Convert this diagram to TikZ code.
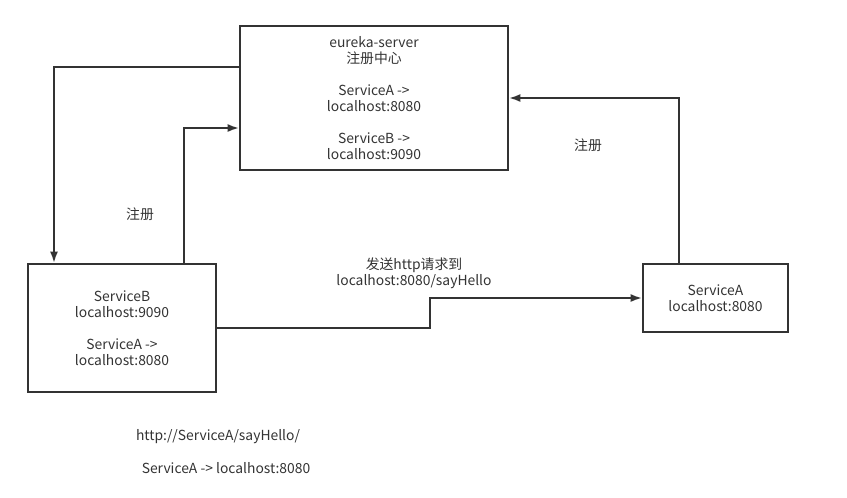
\documentclass[tikz,border=0pt]{standalone}
\usepackage{fontspec}
\setmainfont{Noto Sans CJK SC}
\usetikzlibrary{positioning, arrows.meta}
\usepackage{xcolor}
\definecolor{ink}{HTML}{333333}

\begin{document}
\begin{tikzpicture}[x=0.75pt, y=-0.75pt, font=\fontsize{10.4}{12}\selectfont, text=ink,
        box/.style={rectangle, draw=ink, line width=1.5pt, align=center, inner sep=0pt},
        arr/.style={draw=ink, line width=1.5pt, -{Latex[length=8.5pt, width=6pt]}}]
        \useasboundingbox (0,0) rectangle (847,497);
        % Nodes
        \node[box, minimum width=201pt, minimum height=108pt] (server) at (374,98)
            {eureka-server\\注册中心\\[12pt]ServiceA ->\\localhost:8080\\[12pt]ServiceB ->\\localhost:9090};
        \node[box, minimum width=141pt, minimum height=96pt] (serviceB) at (122,328)
            {ServiceB\\localhost:9090\\[12pt]ServiceA ->\\localhost:8080};
        \node[box, minimum width=108.75pt, minimum height=51pt] (serviceA) at (715.5,298)
            {ServiceA\\localhost:8080};
        \node (regB) at (140,214) {注册};
        \node (regA) at (588,145) {注册};
        \node[align=center] (send) at (414,273) {发送http请求到\\localhost:8080/sayHello};
        \node (url) at (218,437) {http://ServiceA/sayHello/};
        \node (map) at (226,468) {ServiceA -> localhost:8080};
        \coordinate (step) at (430,313);

        % Edges
        \draw[arr] ([shift={(0,-31)}]server.west) -| ([shift={(-68,0)}]serviceB.north);
        \draw[arr] ([shift={(62,0)}]serviceB.north) |- ([shift={(0,30)}]server.west);
        \draw[arr] ([shift={(-36.5,0)}]serviceA.north) |- (server.east);
        \draw[arr] (serviceB.east) -| (step) |- (serviceA.west);
    \end{tikzpicture}
\end{document}
